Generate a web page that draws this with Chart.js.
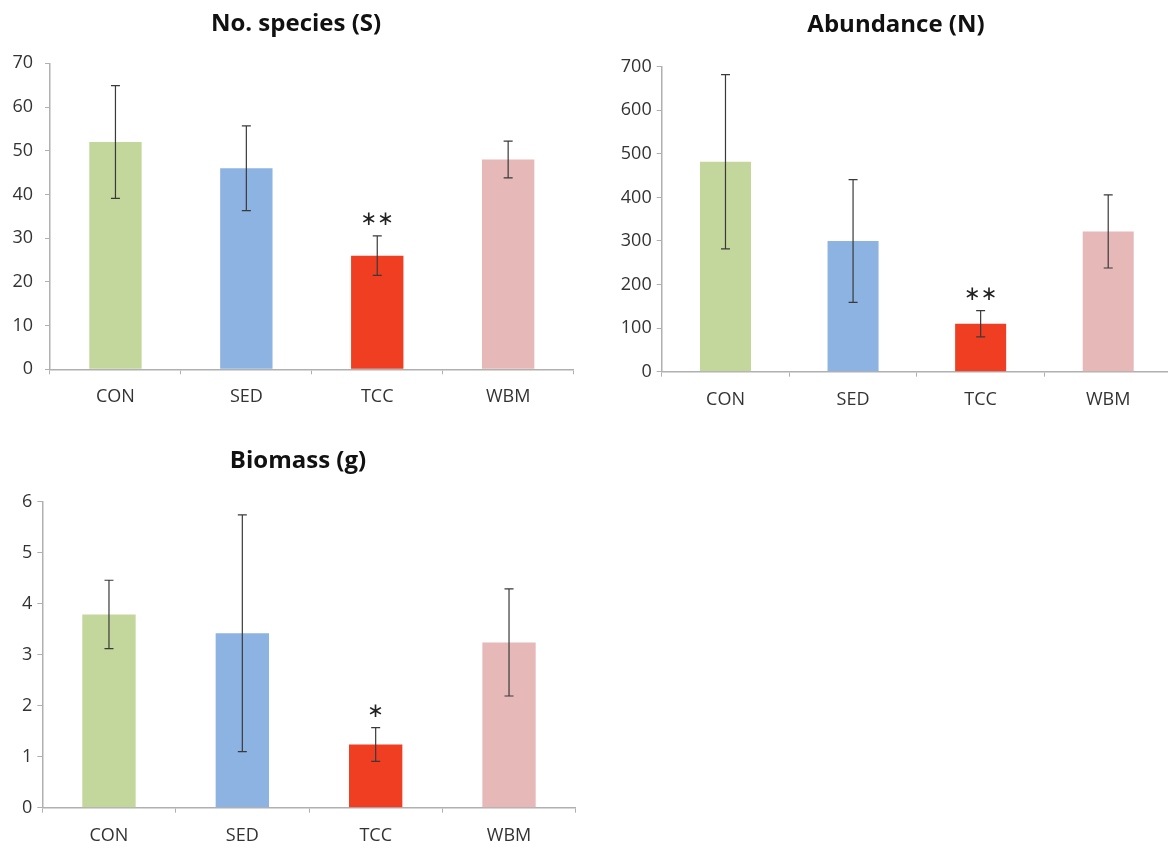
<!DOCTYPE html>
<html>
<head>
<meta charset="utf-8">
<script src="https://cdn.jsdelivr.net/npm/chart.js@4.4.1/dist/chart.umd.min.js"></script>
<style>
    html, body { margin: 0; padding: 0; background: #fff; overflow: hidden; width: 1168px; height: 848px; }
    .box { position: absolute; }
</style>
</head>
<body>
<div class="box" style="left:0px; top:0px;"><canvas id="chartS" width="592" height="420"></canvas></div>
<div class="box" style="left:600px; top:0px;"><canvas id="chartN" width="592" height="420"></canvas></div>
<div class="box" style="left:0px; top:430px;"><canvas id="chartB" width="596" height="418"></canvas></div>
<script>
const categories = ["CON", "SED", "TCC", "WBM"];
const barColors = ["#c3d69b", "#8db3e2", "#ef3e22", "#e6b9b8"];

const speciesMean = [52, 46, 26, 48];
const speciesErr = [12.9, 9.7, 4.5, 4.2];
const speciesSig = ["", "", "**", ""];

const abundanceMean = [482, 300, 110, 322];
const abundanceErr = [200, 141, 30, 84];
const abundanceSig = ["", "", "**", ""];

const biomassMean = [3.79, 3.42, 1.24, 3.24];
const biomassErr = [0.67, 2.32, 0.33, 1.05];
const biomassSig = ["", "", "*", ""];

const axisGray = "#b0b0b0";
const tickFont = { family: "Open Sans", size: 18 };

// error bars + significance stars, drawn with the chart's own y scale
const errorBarPlugin = {
    id: "errorBars",
    afterDatasetsDraw(chart, args, opts) {
        const ctx = chart.ctx;
        const yScale = chart.scales.y;
        const meta = chart.getDatasetMeta(0);
        const values = chart.data.datasets[0].data;
        ctx.save();
        meta.data.forEach((bar, i) => {
            const v = values[i];
            const e = opts.errors[i];
            const yTop = yScale.getPixelForValue(v + e);
            const yBot = yScale.getPixelForValue(v - e);
            ctx.strokeStyle = "#3a3a3a";
            ctx.lineWidth = 1.2;
            ctx.beginPath();
            ctx.moveTo(bar.x, yTop);
            ctx.lineTo(bar.x, yBot);
            ctx.moveTo(bar.x - 4.5, yTop);
            ctx.lineTo(bar.x + 4.5, yTop);
            ctx.moveTo(bar.x - 4.5, yBot);
            ctx.lineTo(bar.x + 4.5, yBot);
            ctx.stroke();
            if (opts.stars[i]) {
                ctx.fillStyle = "#222";
                ctx.font = "20px 'DejaVu Sans'";
                ctx.textAlign = "center";
                ctx.textBaseline = "middle";
                ctx.fillText(opts.stars[i].replace(/\*/g, "\u2217"), bar.x, yTop - 16);
            }
        });
        ctx.restore();
    }
};

function makeChart(id, title, means, errs, stars, yMax, yStep, cfg) {
    return new Chart(document.getElementById(id), {
        type: "bar",
        data: {
            labels: categories,
            datasets: [{
                data: means,
                backgroundColor: barColors,
                borderWidth: 0,
                barPercentage: 0.4,
                categoryPercentage: 1.0,
            }],
        },
        options: {
            responsive: false,
            animation: false,
            layout: { padding: 0 },
            plugins: {
                legend: { display: false },
                tooltip: { enabled: false },
                title: {
                    display: true,
                    text: title,
                    color: "#111",
                    font: { family: "Open Sans", size: 24, weight: "bold", lineHeight: 1.2 },
                    padding: { top: cfg.titleTop, bottom: cfg.titleBottom },
                },
                errorBars: { errors: errs, stars: stars },
            },
            scales: {
                x: {
                    grid: { display: true, drawOnChartArea: false, drawTicks: true, tickLength: 5, color: axisGray, offset: true },
                    border: { color: axisGray, width: 1.5 },
                    ticks: { color: "#333", font: tickFont, padding: 12 },
                    afterFit: (scale) => { scale.height = cfg.xH; },
                },
                y: {
                    min: 0,
                    max: yMax,
                    grid: { display: true, drawOnChartArea: false, drawTicks: true, tickLength: 5, color: axisGray },
                    border: { color: axisGray, width: 1.5 },
                    ticks: { stepSize: yStep, color: "#333", font: tickFont, padding: cfg.yPad },
                    afterFit: (scale) => { scale.width = cfg.yW; },
                },
                // empty right-hand axis: only keeps the title centred where the original has it
                spacer: {
                    type: "linear",
                    position: "right",
                    grid: { display: false },
                    border: { display: false },
                    ticks: { display: false },
                    afterFit: (scale) => { scale.width = cfg.rightW; },
                },
            },
        },
        plugins: [errorBarPlugin],
    });
}

makeChart("chartS", "No. species (S)", speciesMean, speciesErr, speciesSig, 70, 10,
    { yW: 50, rightW: 18.4, yPad: 12, titleTop: 9.6, titleBottom: 24.9, xH: 50.7 });
makeChart("chartN", "Abundance (N)", abundanceMean, abundanceErr, abundanceSig, 700, 100,
    { yW: 61.7, rightW: 20, yPad: 5, titleTop: 10.6, titleBottom: 27.3, xH: 48.3 });
makeChart("chartB", "Biomass (g)", biomassMean, biomassErr, biomassSig, 6, 1,
    { yW: 42.3, rightW: 20.3, yPad: 5, titleTop: 16.6, titleBottom: 26.3, xH: 40.3 });
</script>
</body>
</html>
